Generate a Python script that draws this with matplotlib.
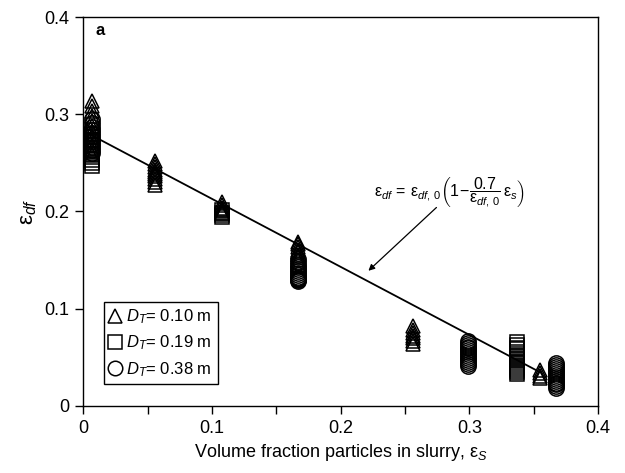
import matplotlib
matplotlib.use("Agg")
import matplotlib.pyplot as plt
from matplotlib.ticker import MultipleLocator, FuncFormatter

plt.rcParams['font.family'] = ['Liberation Sans', 'DejaVu Sans']
plt.rcParams['mathtext.fontset'] = 'custom'
plt.rcParams['mathtext.rm'] = 'Liberation Sans'
plt.rcParams['mathtext.it'] = 'Liberation Sans:italic'
plt.rcParams['mathtext.bf'] = 'Liberation Sans:bold'

# D_T = 0.10 m (triangles)
tri_x = [0.007] * 12 + [0.056] * 10 + [0.108] * 6 + [0.167] * 8 + [0.256] * 7 + [0.355] * 4
tri_y = [0.258, 0.263, 0.268, 0.273, 0.278, 0.283, 0.288, 0.293, 0.298, 0.303, 0.308, 0.314,
         0.227, 0.230, 0.233, 0.236, 0.239, 0.241, 0.243, 0.246, 0.249, 0.252,
         0.198, 0.200, 0.202, 0.204, 0.207, 0.210,
         0.150, 0.153, 0.155, 0.158, 0.160, 0.163, 0.166, 0.169,
         0.064, 0.067, 0.070, 0.072, 0.075, 0.078, 0.082,
         0.029, 0.031, 0.034, 0.037]

# D_T = 0.19 m (squares)
sq_x = [0.007] * 12 + [0.108] * 4 + [0.337] * 16
sq_y = [0.247, 0.250, 0.253, 0.256, 0.259, 0.262, 0.265, 0.268, 0.271, 0.274, 0.277, 0.280,
        0.194, 0.196, 0.198, 0.201,
        0.033, 0.035, 0.037, 0.039, 0.041, 0.043, 0.045, 0.047, 0.049, 0.051,
        0.053, 0.055, 0.058, 0.060, 0.063, 0.066]

# D_T = 0.38 m (circles)
circ_x = [0.007] * 12 + [0.167] * 14 + [0.299] * 14 + [0.367] * 14
circ_y = [0.260, 0.263, 0.266, 0.269, 0.272, 0.275, 0.278, 0.281, 0.284, 0.287, 0.291, 0.295,
          0.128, 0.129, 0.130, 0.131, 0.132, 0.133, 0.135, 0.137, 0.139, 0.141, 0.143, 0.145,
          0.148, 0.151,
          0.041, 0.043, 0.045, 0.047, 0.049, 0.051, 0.053, 0.055, 0.057, 0.059, 0.061, 0.063,
          0.065, 0.067,
          0.018, 0.020, 0.022, 0.024, 0.026, 0.028, 0.030, 0.032, 0.034, 0.036, 0.038, 0.040,
          0.042, 0.044]

# correlation eps_df = eps_df0 (1 - 0.7/eps_df0 * eps_s)
eps_df0 = 0.283
fit_x = [0.006, 0.355]
fit_y = [eps_df0 * (1 - 0.7 / eps_df0 * x) for x in fit_x]

fig = plt.figure(figsize=(6.25, 4.73), dpi=100)
ax = fig.add_axes([0.133, 0.142, 0.824, 0.822])

mk = dict(linestyle='none', markerfacecolor='none', markeredgecolor='black',
          markeredgewidth=1.1)
ax.plot(fit_x, fit_y, color='black', lw=1.3, zorder=1)
ax.plot(tri_x, tri_y, marker='^', markersize=10.5, label=r'$\mathit{D_T}$= 0.10 m', **mk)
ax.plot(sq_x, sq_y, marker='s', markersize=10, label=r'$\mathit{D_T}$= 0.19 m', **mk)
ax.plot(circ_x, circ_y, marker='o', markersize=11, label=r'$\mathit{D_T}$= 0.38 m', **mk)

ax.set_xlim(0, 0.4)
ax.set_ylim(0, 0.4)
ax.xaxis.set_major_locator(MultipleLocator(0.1))
ax.xaxis.set_minor_locator(MultipleLocator(0.05))
ax.yaxis.set_major_locator(MultipleLocator(0.1))
fmt = FuncFormatter(lambda v, p: '0' if abs(v) < 1e-9 else '%.1f' % v)
ax.xaxis.set_major_formatter(fmt)
ax.yaxis.set_major_formatter(fmt)
ax.tick_params(axis='both', which='both', direction='out', length=6, width=1,
               labelsize=13, pad=4, top=False, right=False)
for s in ax.spines.values():
    s.set_linewidth(1.0)

ax.set_xlabel('Volume fraction particles in slurry, ε$_{\\mathit{S}}$', fontsize=13, labelpad=4)
ax.set_ylabel('ε$_{\\mathit{df}}$', fontsize=16, labelpad=4)

ax.text(0.010, 0.386, 'a', fontsize=12, fontweight='bold', ha='left', va='center')

eq = (r'$\mathrm{ε}_{\mathit{df}}\,=\,\mathrm{ε}_{\mathit{df},\,0}'
      r'\left(1\!-\!\dfrac{0.7}{\mathrm{ε}_{\mathit{df},\,0}}\,\mathrm{ε}_{\mathit{s}}\right)$')
ax.text(0.226, 0.219, eq, fontsize=11.5, ha='left', va='center')
ax.annotate('', xy=(0.220, 0.137), xytext=(0.276, 0.206),
            arrowprops=dict(arrowstyle='-|>', color='black', lw=0.9,
                            mutation_scale=9))

leg = ax.legend(loc='lower left', bbox_to_anchor=(0.04, 0.055), fontsize=12,
                frameon=True, fancybox=False, edgecolor='black', framealpha=1,
                handlelength=0.7, handletextpad=0.3, borderpad=0.35,
                labelspacing=0.45, borderaxespad=0, markerscale=0.95)
leg.get_frame().set_linewidth(1.0)

fig.savefig('out.png', dpi=100)
